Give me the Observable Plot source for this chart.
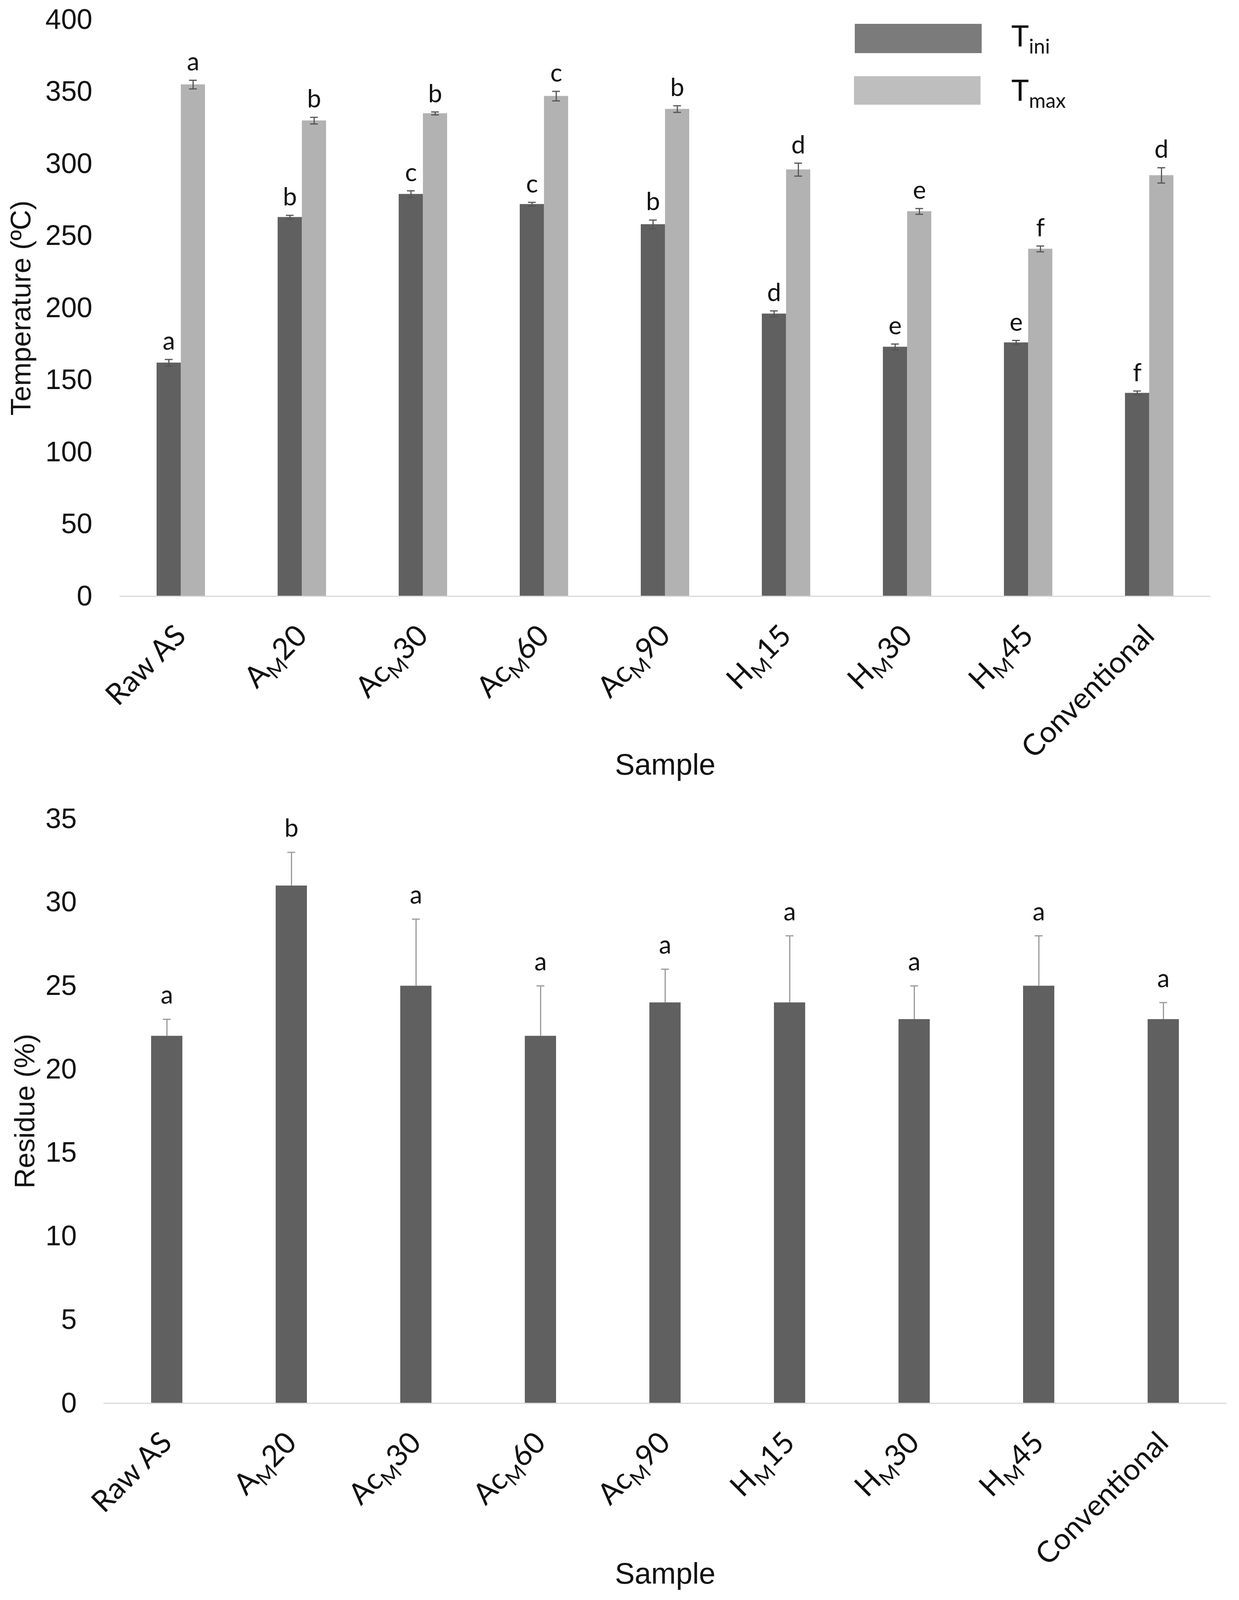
<!DOCTYPE html>
<html><head><meta charset="utf-8">
<script src="https://cdn.jsdelivr.net/npm/d3@7"></script>
<script src="https://cdn.jsdelivr.net/npm/@observablehq/plot@0.6"></script>
<style>
html,body{margin:0;padding:0;background:#fff;}
#wrap{position:relative;width:3173px;height:4096px;background:#fff;overflow:hidden;}
#c1{position:absolute;left:0;top:0;}
#c2{position:absolute;left:0;top:2050px;}
.lg-box{position:absolute;}
.lg-txt{position:absolute;font-family:Lato,sans-serif;font-size:76px;line-height:1;color:#111;white-space:nowrap;}
.lg-txt span{font-size:52px;position:relative;top:18px;}
</style></head><body>
<div id="wrap">
  <div id="c1"></div>
  <div id="c2"></div>
  <div class="lg-box" style="left:2189px;top:61px;width:325px;height:75px;background:#7b7b7b;"></div>
  <div class="lg-box" style="left:2187px;top:195px;width:324px;height:73px;background:#bebebe;"></div>
  <div class="lg-txt" style="left:2590px;top:52px;">T<span>ini</span></div>
  <div class="lg-txt" style="left:2590px;top:191px;">T<span>max</span></div>
</div>
<script>
// ---- data ----
const samples = ["Raw AS", "A_M20", "Ac_M30", "Ac_M60", "Ac_M90", "H_M15", "H_M30", "H_M45", "Conventional"];
const tIni      = [162, 263, 279, 272, 258, 196, 173, 176, 141];
const tIniErr   = [2.3, 1.3, 2.3, 1.3, 3, 2, 2, 1.5, 1.4];
const tIniLet   = ["a", "b", "c", "c", "b", "d", "e", "e", "f"];
const tMax      = [355, 330, 335, 347, 338, 296, 267, 241, 292];
const tMaxErr   = [3, 2.3, 1, 3.3, 2.3, 4.5, 2, 2, 5.3];
const tMaxLet   = ["a", "b", "b", "c", "b", "d", "e", "f", "d"];
const residue    = [22, 31, 25, 22, 24, 24, 23, 25, 23];
const residueErr = [1, 2, 4, 3, 2, 4, 2, 3, 1];
const residueLet = ["a", "b", "a", "a", "a", "a", "a", "a", "a"];
const tempTicks = [0, 50, 100, 150, 200, 250, 300, 350, 400];
const resTicks  = [0, 5, 10, 15, 20, 25, 30, 35];

const rows1 = samples.map((s, i) => ({sample: s, ini: tIni[i], iniErr: tIniErr[i], iniLet: tIniLet[i],
  max: tMax[i], maxErr: tMaxErr[i], maxLet: tMaxLet[i]}));
const rows2 = samples.map((s, i) => ({sample: s, v: residue[i], e: residueErr[i], l: residueLet[i]}));

const W = 3173;
const DARK = "#606060", LIGHT = "#b2b2b2";
const baseFont = "'Liberation Sans', Arial, sans-serif";

function fixTicks(svg) {
  const ns = "http://www.w3.org/2000/svg";
  svg.querySelectorAll('g[aria-label="x-axis tick label"] text').forEach(t => {
    t.setAttribute("font-family", "Lato, sans-serif");
    const s = t.textContent;
    const i = s.indexOf("_");
    if (i < 0) return;
    const pre = s.slice(0, i), sub = s[i + 1], post = s.slice(i + 2);
    while (t.firstChild) t.removeChild(t.firstChild);
    const a = document.createElementNS(ns, "tspan"); a.textContent = pre; t.appendChild(a);
    const b = document.createElementNS(ns, "tspan"); b.textContent = sub;
    b.setAttribute("font-size", "53"); b.setAttribute("dy", "17"); t.appendChild(b);
    const c = document.createElementNS(ns, "tspan"); c.textContent = post;
    c.setAttribute("dy", "-17"); t.appendChild(c);
  });
}

// ---- chart 1 ----
{
  const m = {top: 50, right: 73, bottom: 524, left: 306};
  const H = 2050;
  const step = (W - m.left - m.right) / samples.length;
  const bw = step * 0.4;
  const cap = 10;
  const chart = Plot.plot({
    width: W, height: H,
    marginTop: m.top, marginRight: m.right, marginBottom: m.bottom, marginLeft: m.left,
    style: {fontFamily: baseFont, fontSize: "72px", background: "white", color: "#111", overflow: "visible"},
    x: {domain: samples, paddingInner: 0.6, paddingOuter: 0.3},
    y: {domain: [0, 400]},
    marks: [
      Plot.axisY({ticks: tempTicks, tickSize: 0, tickPadding: 70, fontSize: 72,
        label: "Temperature (ºC)", labelAnchor: "center", labelOffset: 280, labelArrow: "none"}),
      Plot.axisX({tickSize: 0, tickRotate: -45, tickPadding: 88, fontSize: 76,
        label: "Sample", labelAnchor: "center", labelOffset: 456, labelArrow: "none"}),
      Plot.barY(rows1, {x: "sample", y: "ini", fill: DARK, insetRight: bw / 2}),
      Plot.barY(rows1, {x: "sample", y: "max", fill: LIGHT, insetLeft: bw / 2}),
      Plot.ruleY([0], {stroke: "#d9d9d9", strokeWidth: 3}),
      Plot.ruleX(rows1, {x: "sample", y1: d => d.ini - d.iniErr, y2: d => d.ini + d.iniErr, dx: -bw / 4, stroke: "#555", strokeWidth: 3}),
      Plot.tickY(rows1, {x: "sample", y: d => d.ini + d.iniErr, insetLeft: bw / 4 - cap, insetRight: 3 * bw / 4 - cap, stroke: "#555", strokeWidth: 3}),
      Plot.tickY(rows1, {x: "sample", y: d => d.ini - d.iniErr, insetLeft: bw / 4 - cap, insetRight: 3 * bw / 4 - cap, stroke: "#555", strokeWidth: 3}),
      Plot.ruleX(rows1, {x: "sample", y1: d => d.max - d.maxErr, y2: d => d.max + d.maxErr, dx: bw / 4, stroke: "#555", strokeWidth: 3}),
      Plot.tickY(rows1, {x: "sample", y: d => d.max + d.maxErr, insetLeft: 3 * bw / 4 - cap, insetRight: bw / 4 - cap, stroke: "#555", strokeWidth: 3}),
      Plot.tickY(rows1, {x: "sample", y: d => d.max - d.maxErr, insetLeft: 3 * bw / 4 - cap, insetRight: bw / 4 - cap, stroke: "#555", strokeWidth: 3}),
      Plot.text(rows1, {x: "sample", y: d => d.ini + d.iniErr, text: "iniLet", dx: -bw / 4, dy: -25, lineAnchor: "bottom",
        fontSize: 64, fontFamily: "Lato, sans-serif", fill: "#111"}),
      Plot.text(rows1, {x: "sample", y: d => d.max + d.maxErr, text: "maxLet", dx: bw / 4, dy: -25, lineAnchor: "bottom",
        fontSize: 64, fontFamily: "Lato, sans-serif", fill: "#111"})
    ]
  });
  fixTicks(chart);
  document.getElementById("c1").appendChild(chart);
}

// ---- chart 2 ----
{
  const m = {top: 46, right: 32, bottom: 504, left: 265};
  const H = 2046;
  const step = (W - m.left - m.right) / samples.length;
  const bw = step * 0.25;
  const cap = 10;
  const chart = Plot.plot({
    width: W, height: H,
    marginTop: m.top, marginRight: m.right, marginBottom: m.bottom, marginLeft: m.left,
    style: {fontFamily: baseFont, fontSize: "72px", background: "white", color: "#111", overflow: "visible"},
    x: {domain: samples, paddingInner: 0.75, paddingOuter: 0.375},
    y: {domain: [0, 35]},
    marks: [
      Plot.axisY({ticks: resTicks, tickSize: 0, tickPadding: 69, fontSize: 72,
        label: "Residue (%)", labelAnchor: "center", labelOffset: 229, labelArrow: "none"}),
      Plot.axisX({tickSize: 0, tickRotate: -45, tickPadding: 88, fontSize: 76,
        label: "Sample", labelAnchor: "center", labelOffset: 461, labelArrow: "none"}),
      Plot.barY(rows2, {x: "sample", y: "v", fill: DARK}),
      Plot.ruleY([0], {stroke: "#d9d9d9", strokeWidth: 3}),
      Plot.ruleX(rows2, {x: "sample", y1: "v", y2: d => d.v + d.e, stroke: "#999", strokeWidth: 3}),
      Plot.tickY(rows2, {x: "sample", y: d => d.v + d.e, insetLeft: bw / 2 - cap, insetRight: bw / 2 - cap, stroke: "#999", strokeWidth: 3}),
      Plot.text(rows2, {x: "sample", y: d => d.v + d.e, text: "l", dy: -40, lineAnchor: "bottom",
        fontSize: 64, fontFamily: "Lato, sans-serif", fill: "#111"})
    ]
  });
  fixTicks(chart);
  document.getElementById("c2").appendChild(chart);
}
</script>
</body></html>
